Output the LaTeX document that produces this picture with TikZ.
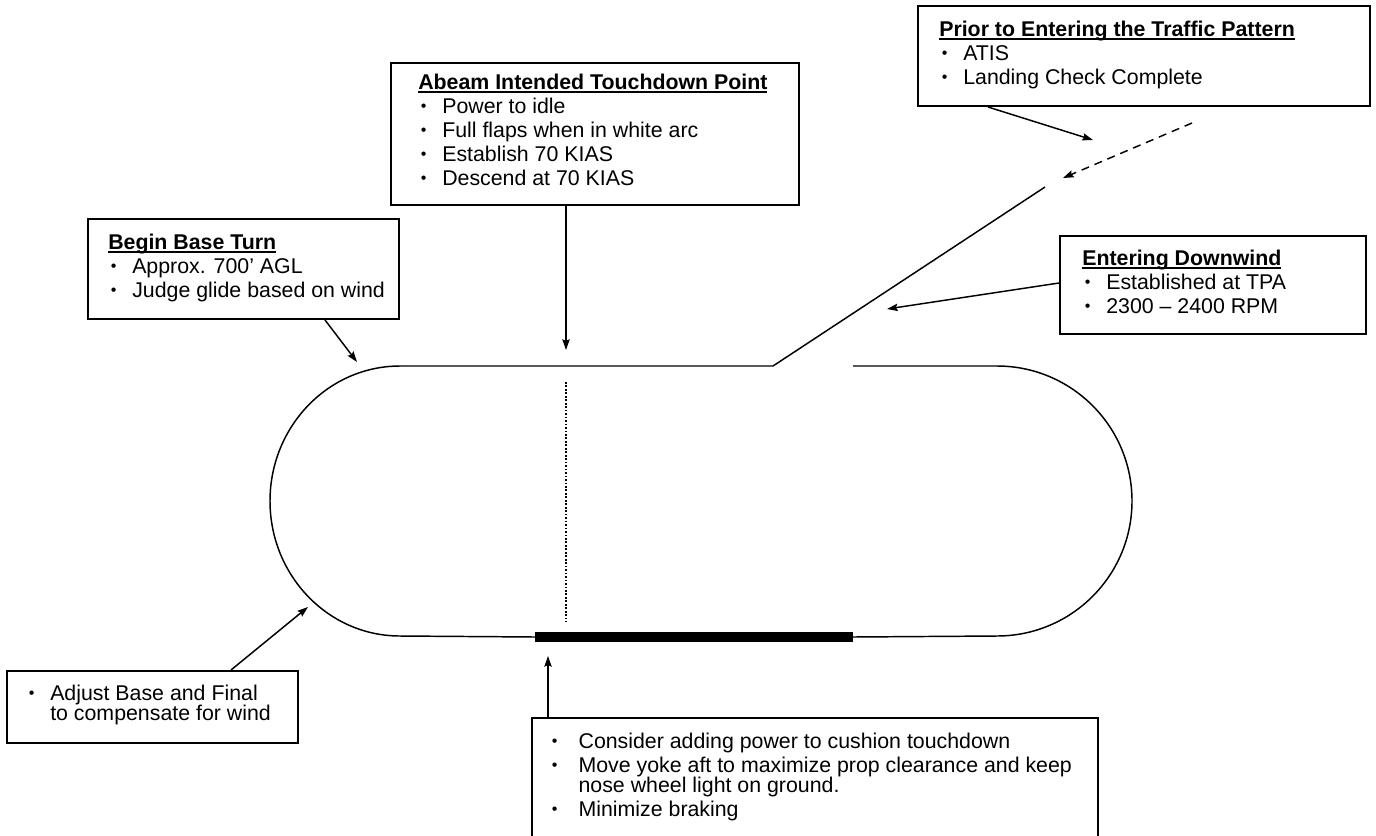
\documentclass[tikz,border=0pt]{standalone}
\usepackage{fontspec}
\setmainfont{Liberation Sans}
\usetikzlibrary{arrows.meta,calc}
\newcommand\bl[1][18pt]{\makebox[#1][l]{\hspace{2pt}\raisebox{0.09em}{\scalebox{0.75}{\textbullet}}}}
\newcommand\ult[1]{\setbox0=\hbox{\bfseries #1}\rlap{\rule[-2.3pt]{\wd0}{1.1pt}}\box0}
\begin{document}
\lineskiplimit=-50pt
\begin{tikzpicture}[x=0.75pt,y=-0.75pt,
  box/.style={draw, line width=1.5pt, inner sep=0pt, anchor=north west},
  txt/.style={anchor=north west, inner sep=0pt, align=left,
    font=\fontsize{16}{14.5}\selectfont},
  ln/.style={line width=1.1pt},
  arr/.style={ln, -{Stealth[length=8pt,width=5.5pt,inset=1.2pt]}}]
\useasboundingbox (0,0) rectangle (1376,835);

% boxes
\node[box, minimum width=339pt, minimum height=75pt] (prior) at (917,5) {};
\node[box, minimum width=306pt, minimum height=106.5pt] (abeam) at (390,62) {};
\node[box, minimum width=233.25pt, minimum height=75pt] (begin) at (87,218) {};
\node[box, minimum width=229.5pt, minimum height=73.5pt] (enter) at (1059,235) {};
\node[box, minimum width=218.25pt, minimum height=54pt] (adjust) at (6,670) {};
\node[box, minimum width=424.5pt, minimum height=105pt] (runway) at (531,717) {};

% texts
\node[txt] (priorT) at (939,21) {\ult{Prior to Entering the Traffic Pattern}\\[3.5pt]
  \bl ATIS\\[3.5pt]
  \bl Landing Check Complete};
\node[txt] (abeamT) at (418,74) {\ult{Abeam Intended Touchdown Point}\\[3.5pt]
  \bl Power to idle\\[3.5pt]
  \bl Full flaps when in white arc\\[3.5pt]
  \bl Establish 70 KIAS\\[3.5pt]
  \bl Descend at 70 KIAS};
\node[txt] (beginT) at (108,234) {\ult{Begin Base Turn}\\[3.5pt]
  \bl Approx. 700’ AGL\\[3.5pt]
  \bl Judge glide based on wind};
\node[txt] (enterT) at (1082,250) {\ult{Entering Downwind}\\[3.5pt]
  \bl Established at TPA\\[3.5pt]
  \bl 2300 – 2400 RPM};
\node[txt] (adjustT) at (26,685) {\bl Adjust Base and Final\\
  \makebox[18pt]{}to compensate for wind};
\node[txt] (runwayT) at (549,733) {\bl[22pt]Consider adding power to cushion touchdown\\[3.5pt]
  \bl[22pt]Move yoke aft to maximize prop clearance and keep\\
  \makebox[22pt]{}nose wheel light on ground.\\[3.5pt]
  \bl[22pt]Minimize braking};

% traffic pattern
\draw[ln] (400,366) -- (773,366) -- (1045,187);
\draw[ln] (853,366) -- (997,366) arc[start angle=-90, end angle=90, radius=135] -- (853,637);
\draw[ln] (535,637) -- (400,636) arc[start angle=90, end angle=270, x radius=130, y radius=135];
\draw[line width=7.5pt] (535,637) -- (853,637);
\draw[line width=1pt, dash pattern=on 1.3pt off 1.3pt] (566,382) -- (566,622);

% connector end points
\coordinate (priorTip) at (1093,140);
\coordinate (abeamTip) at (566,350);
\coordinate (beginTip) at (357,362);
\coordinate (enterTip) at (887,309);
\coordinate (adjustTip) at (308,607);
\coordinate (runwayTip) at (548,656);
\coordinate (entryStart) at (1192,123);
\coordinate (entryEnd) at (1063,178);

% connectors
\draw[arr] ($(prior.south west)+(71,0)$) -- (priorTip);
\draw[arr] ($(abeam.south west)+(176,0)$) -- (abeamTip);
\draw[arr] ($(begin.south west)+(238,0)$) -- (beginTip);
\draw[arr] ($(enter.north west)+(0,48)$) -- (enterTip);
\draw[arr] ($(adjust.north west)+(225,0)$) -- (adjustTip);
\draw[arr] ($(runway.north west)+(17,0)$) -- (runwayTip);
\draw[arr, dash pattern=on 6pt off 4.5pt] (entryStart) -- (entryEnd);
\end{tikzpicture}
\end{document}
